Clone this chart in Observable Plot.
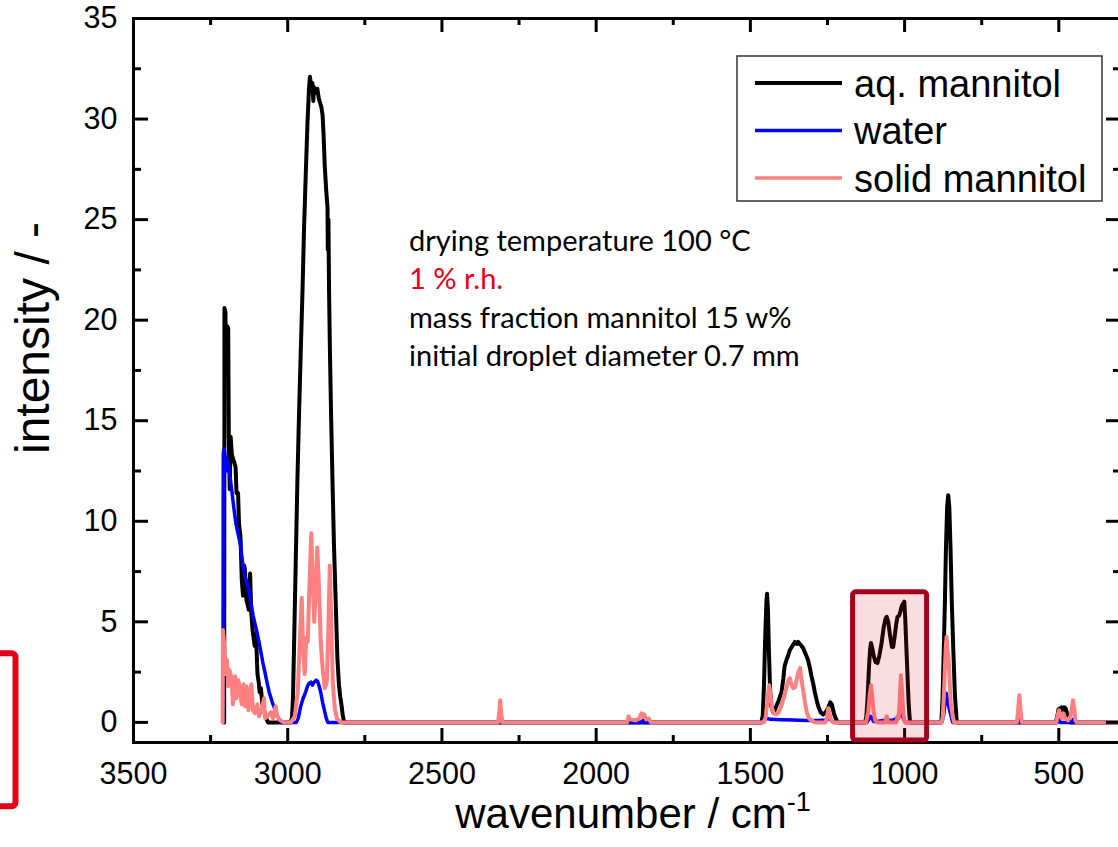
<!DOCTYPE html>
<html>
<head>
<meta charset="utf-8">
<script src="https://cdn.jsdelivr.net/npm/d3@7"></script>
<script src="https://cdn.jsdelivr.net/npm/@observablehq/plot@0.6"></script>
<style>
  html, body { margin: 0; padding: 0; background: #fff; overflow: hidden; }
  #chart { width: 1118px; height: 847px; }
</style>
</head>
<body>
<div id="chart"></div>
<script>
// Raman spectra, [wavenumber (cm^-1), intensity]
const aqMannitol = [
  [3206, 0], [3205, 20.6], [3202, 20.4], [3199, 17.4], [3196, 19.7], [3193, 19.6], [3191, 14.2], [3188, 11.6],
  [3185, 14.2], [3181, 13.3], [3175, 13.0], [3169, 12.7], [3166, 11.4], [3161, 11.4], [3158, 9.9], [3153, 9.2],
  [3149, 7.1], [3145, 6.3], [3141, 7.8], [3139, 7.6], [3134, 6.1], [3126, 5.6], [3122, 7.4], [3118, 5.4],
  [3114, 4.6], [3107, 3.8], [3103, 4.4], [3098, 2.4], [3094, 2.0], [3091, 1.5], [3087, 1.7], [3082, 0.9],
  [3077, 0.6], [3070, 0.2], [3064, 0],
  [2990, 0], [2986, 0.3], [2983, 1.2], [2979.5, 3.8], [2974, 8.0], [2968.5, 12.1], [2963, 15.5], [2958, 18.3],
  [2952, 21.5], [2947, 24.6], [2941, 27.5], [2936, 29.8], [2931, 31.5], [2928, 32.1], [2924, 31.6], [2920, 31.8],
  [2917, 30.9], [2915, 31.6], [2910, 31.3], [2904, 31.5], [2899, 31.0], [2895, 30.8], [2891, 30.6], [2887, 30.2],
  [2884, 29.3], [2880, 27.7], [2875, 26.4], [2871, 25.6], [2870, 23.5], [2868, 25.0], [2866, 21.5], [2863, 18.3],
  [2859, 15.0], [2855, 12.1], [2850, 8.8], [2844, 5.8], [2839, 3.2], [2834, 1.9], [2830, 1.3], [2826, 0.9],
  [2822, 0.4], [2817, 0],
  [1465, 0], [1460, 0.3], [1456, 1.8], [1452, 4.2], [1448, 6.0], [1446, 6.4], [1443, 5.6], [1440, 3.6],
  [1436, 1.6], [1432, 0.8], [1426, 0.5], [1421, 0.6], [1416, 0.8], [1408, 1.1], [1399, 1.5], [1393, 2.2],
  [1389, 2.8], [1383, 3.1], [1378, 3.3], [1372, 3.6], [1364, 3.8], [1356, 4.0], [1350, 3.9], [1345, 4.0],
  [1340, 3.9], [1334, 3.8], [1329, 3.7], [1321, 3.4], [1313, 3.1], [1307, 2.7], [1302, 2.3], [1296, 1.9],
  [1291, 1.5], [1285, 1.1], [1280, 0.8], [1272, 0.5], [1264, 0.4], [1256, 0.5], [1248, 0.7], [1241, 1.0],
  [1236, 0.9], [1230, 0.5], [1226, 0.3], [1220, 0.1], [1215, 0],
  [1128, 0], [1124, 0.3], [1120, 1.2], [1116, 2.6], [1112, 3.6], [1109, 3.95], [1105, 3.7], [1100, 3.3],
  [1094, 3.0], [1088, 2.95], [1082, 3.3], [1075, 3.9], [1068, 4.7], [1062, 5.15], [1058, 5.25], [1053, 5.0],
  [1047, 4.3], [1041, 3.75], [1037, 3.75], [1032, 4.3], [1027, 4.9], [1023, 5.25], [1018, 5.3], [1013, 5.55],
  [1009, 5.8], [1005, 5.9], [1001, 6.0], [998, 5.2], [995, 4.0], [991, 2.5], [987, 1.0], [984, 0.3], [982, 0],
  [881, 0], [877, 1.2], [873, 3.6], [869, 6.2], [866, 8.6], [862, 10.7], [858.5, 11.3], [855, 10.7],
  [851, 8.6], [847, 6.0], [842, 3.6], [837, 1.4], [831, 0],
  [510, 0], [505, 0.3], [501, 0.65], [497, 0.7], [494, 0.55], [490, 0.75], [486, 0.6], [482, 0.75],
  [478, 0.7], [474, 0.5], [470, 0.3], [466, 0.1], [463, 0], [300, 0]
];

const water = [
  [3210, 0], [3209, 13.4], [3206, 13.6], [3203, 13.2], [3200, 12.5], [3197, 13.1], [3194, 12.9], [3190, 12.6],
  [3186, 12.1], [3181, 11.5], [3175, 10.7], [3168, 9.9], [3160, 9.3], [3153, 8.8], [3146, 7.9], [3139, 7.3],
  [3132, 6.9], [3126, 6.6], [3119, 5.9], [3112, 5.3], [3106, 4.9], [3100, 4.5], [3093, 4.0], [3087, 3.5],
  [3081, 3.0], [3074, 2.5], [3066, 1.9], [3060, 1.5], [3055, 1.25], [3050, 1.0], [3045, 0.8], [3040, 0.55],
  [3036, 0.4], [3030, 0.2], [3025, 0.1], [3020, 0],
  [2972, 0], [2966, 0.2], [2958, 0.8], [2950, 1.2], [2942, 1.5], [2936, 1.8], [2931, 1.95], [2925, 2.0],
  [2920, 1.85], [2914, 2.0], [2908, 2.1], [2903, 2.05], [2898, 1.8], [2893, 1.5], [2887, 1.0], [2881, 0.6],
  [2875, 0.2], [2870, 0],
  [1852, 0], [1848, 0.1], [1843, 0],
  [1465, 0], [1455, 0.12], [1445, 0.2], [1435, 0.15], [1400, 0.13], [1360, 0.12], [1320, 0.1], [1280, 0.1],
  [1255, 0.12], [1246, 0.2], [1238, 0.1], [1228, 0],
  [1122, 0], [1116, 0.15], [1111, 0.3], [1107, 0.25], [1101, 0.05], [1090, 0.05], [1070, 0.1], [1055, 0.12],
  [1040, 0.1], [1025, 0.2], [1015, 0.35], [1010, 0.4], [1005, 0.25], [999, 0],
  [879, 0], [873, 0.4], [869, 0.9], [865, 1.45], [862, 1.2], [858, 0.9], [854, 0.6], [849, 0.3], [844, 0],
  [632, 0], [628, 0.15], [624, 0],
  [503, 0], [499, 0.15], [495, 0], [456, 0], [453, 0.15], [449, 0], [300, 0]
];

const solidMannitol = [
  [3211, 0], [3210, 4.6], [3208, 4.2], [3205.6, 3.8], [3203, 3.2], [3201, 2.4], [3197, 3.1], [3192.6, 1.8],
  [3188.3, 2.6], [3181.8, 2.1], [3177.5, 0.9], [3171, 2.3], [3166.6, 1.2], [3160, 2.1], [3153.6, 1.5],
  [3149.4, 0.9], [3143.9, 1.9], [3138.6, 0.8], [3134, 1.8], [3127.6, 0.6], [3122.2, 1.6], [3117.8, 1.9],
  [3112.6, 0.6], [3106.2, 0.45], [3098.4, 0.9], [3093.2, 0.3], [3084.4, 0.6], [3077, 1.2], [3073, 0.2],
  [3066, 0.3], [3055, 0.5], [3048, 0.2], [3039, 0.8], [3034, 0.3], [3028, 0.15], [3013, 0],
  [2990, 0], [2977, 0.3], [2967.5, 1.5], [2959.4, 4.5], [2954.5, 6.2], [2949.7, 3.5], [2944.8, 2.4],
  [2939.9, 4.2], [2935.1, 4.0], [2930.2, 6.5], [2923.7, 9.4], [2918.8, 7.0], [2914, 5.0], [2909.1, 6.5],
  [2904.2, 8.7], [2899.4, 7.0], [2892.9, 4.0], [2886.4, 2.6], [2879.9, 1.7], [2873.4, 2.0], [2868.5, 4.5],
  [2863.6, 7.8], [2858.8, 5.0], [2853.9, 2.0], [2847.4, 0.7], [2840.9, 0.2], [2828, 0],
  [2318, 0], [2314, 0.5], [2311, 1.1], [2308, 0.5], [2304, 0],
  [1900, 0], [1895, 0.3], [1890, 0.15], [1872, 0.1], [1860, 0.2], [1853, 0.45], [1848, 0.3], [1844, 0.4],
  [1838, 0.15], [1830, 0.2], [1822, 0],
  [1456, 0], [1450, 0.3], [1446, 0.9], [1442, 1.5], [1439, 1.85], [1435, 1.4], [1430, 0.7], [1424, 0.45],
  [1416, 0.4], [1408, 0.5], [1400, 0.8], [1392, 1.2], [1384, 1.7], [1377, 2.1], [1372, 2.2], [1367, 1.9],
  [1361, 1.7], [1355, 1.75], [1349, 2.2], [1344, 2.5], [1339, 2.7], [1334, 2.1], [1329, 1.6], [1323, 1.0],
  [1317, 0.5], [1310, 0.2], [1302, 0.1], [1290, 0], [1256, 0], [1251, 0.3], [1247, 0.7], [1243, 0.4],
  [1238, 0.1], [1232, 0],
  [1125, 0], [1118, 0.5], [1113, 1.4], [1109, 1.85], [1105, 1.3], [1100, 0.5], [1095, 0.1], [1090, 0],
  [1063, 0], [1058, 0.3], [1053, 0], [1027, 0], [1023, 0.3], [1019, 0.2], [1016, 1.1], [1012, 2.35],
  [1008, 1.5], [1004, 0.4], [999, 0],
  [880, 0], [876, 0.3], [872, 1.6], [867, 3.6], [864, 4.25], [861, 3.6], [857.5, 3.2], [854, 2.1],
  [850, 0.9], [844, 0.3], [839, 0],
  [636, 0], [632, 0.6], [628, 1.35], [624, 0.6], [620, 0],
  [508, 0], [503, 0.4], [499, 0.6], [494, 0.3], [490, 0.2], [485, 0.45], [479, 0.2], [470, 0.1],
  [462, 0.3], [457, 0.8], [454, 1.1], [450, 0.7], [446, 0.1], [442, 0], [300, 0]
];

// Axes
const xDomain = [3500, 300];
const yDomain = [-1, 35];
const xMajor = [3500, 3000, 2500, 2000, 1500, 1000, 500];
const xMinor = [3250, 2750, 2250, 1750, 1250, 750];
const yMajor = [0, 5, 10, 15, 20, 25, 30, 35];
const yMinor = [2.5, 7.5, 12.5, 17.5, 22.5, 27.5, 32.5];

// Highlighted C–O stretching region
const highlight = [{from: 1167, to: 927, low: -0.9, high: 6.47}];

const legendItems = [
  {label: "aq. mannitol", color: "#000000", width: 4},
  {label: "water", color: "#0000ff", width: 3.5},
  {label: "solid mannitol", color: "#ff8080", width: 3.5}
];

const notes = [
  {text: "drying temperature 100 °C", color: "#000000"},
  {text: "1 % r.h.", color: "#e2001a"},
  {text: "mass fraction mannitol 15 w%", color: "#000000"},
  {text: "initial droplet diameter 0.7 mm", color: "#000000"}
];

const W = 1118, H = 847;
const mL = 133, mR = -2, mT = 18, mB = 105;
const FW = W - mR - mL, FH = H - mB - mT;
const sans = "'Liberation Sans', Arial, Helvetica, sans-serif";

const line = (data, stroke, strokeWidth) =>
  Plot.line(data, {x: d => d[0], y: d => d[1], stroke, strokeWidth, strokeLinejoin: "round", clip: true});

const chart = Plot.plot({
  width: W,
  height: H,
  marginLeft: mL,
  marginRight: mR,
  marginTop: mT,
  marginBottom: mB,
  x: {domain: xDomain},
  y: {domain: yDomain},
  style: {fontFamily: sans, fontSize: "30px", color: "#000", background: "#fff"},
  marks: [
    line(aqMannitol, "#000000", 4),
    line(water, "#0000ff", 3.5),
    line(solidMannitol, "#ff8080", 4),
    Plot.frame({stroke: "#000", strokeWidth: 3}),
    // inward ticks on all four sides
    Plot.tickX(xMajor, {x: d => d, insetTop: FH - 14, stroke: "#000", strokeWidth: 3}),
    Plot.tickX(xMinor, {x: d => d, insetTop: FH - 7, stroke: "#000", strokeWidth: 3}),
    Plot.tickX(xMajor, {x: d => d, insetBottom: FH - 14, stroke: "#000", strokeWidth: 3}),
    Plot.tickX(xMinor, {x: d => d, insetBottom: FH - 7, stroke: "#000", strokeWidth: 3}),
    Plot.tickY(yMajor, {y: d => d, insetRight: FW - 15, stroke: "#000", strokeWidth: 3}),
    Plot.tickY(yMinor, {y: d => d, insetRight: FW - 8, stroke: "#000", strokeWidth: 3}),
    Plot.tickY(yMajor, {y: d => d, insetLeft: FW - 14, stroke: "#000", strokeWidth: 3}),
    Plot.tickY(yMinor, {y: d => d, insetLeft: FW - 7, stroke: "#000", strokeWidth: 3}),
    Plot.axisX({ticks: xMajor, tickSize: 0, tickPadding: 20, tickFormat: d3.format("d"), label: null}),
    Plot.axisY({ticks: yMajor, tickSize: 0, tickPadding: 16, tickFormat: d3.format("d"), label: null}),
    Plot.rect(highlight, {
      x1: "from", x2: "to", y1: "low", y2: "high",
      fill: "rgb(215,28,48)", fillOpacity: 0.15,
      stroke: "#a3001b", strokeWidth: 5, rx: 3
    })
  ]
});

const svg = d3.select(chart);

// tick labels at full size
svg.selectAll('g[aria-label$="tick label"]')
  .attr("font-size", 30.5).attr("font-family", sans).attr("fill", "#000");

// axis titles
const xt = svg.append("text")
  .attr("x", 633).attr("y", 828)
  .attr("text-anchor", "middle")
  .attr("font-family", sans).attr("font-size", 42).attr("fill", "#000");
xt.append("tspan").text("wavenumber / cm");
xt.append("tspan").attr("font-size", 27).attr("dy", -17).text("-1");

svg.append("text")
  .attr("transform", "translate(49,338) rotate(-90)")
  .attr("text-anchor", "middle")
  .attr("font-family", sans).attr("font-size", 48).attr("fill", "#000")
  .text("intensity / -");

// legend
const lg = svg.append("g").attr("text-anchor", "start");
lg.append("rect")
  .attr("x", 737).attr("y", 56).attr("width", 365).attr("height", 145)
  .attr("fill", "#fff").attr("stroke", "#333").attr("stroke-width", 1.5);
legendItems.forEach((d, i) => {
  const y = 83 + i * 47.5;
  lg.append("line")
    .attr("x1", 755).attr("x2", 842).attr("y1", y).attr("y2", y)
    .attr("stroke", d.color).attr("stroke-width", d.width);
  lg.append("text")
    .attr("x", 854).attr("y", y).attr("dy", "0.36em")
    .attr("text-anchor", "start")
    .attr("font-family", sans).attr("font-size", 38).attr("fill", "#000")
    .text(d.label);
});

// experimental conditions
const nt = svg.append("g").attr("text-anchor", "start");
notes.forEach((d, i) => {
  nt.append("text")
    .attr("x", 409).attr("y", 251 + i * 38.3)
    .attr("text-anchor", "start")
    .attr("font-family", "Lato, 'Open Sans', sans-serif").attr("font-size", 29)
    .attr("fill", d.color)
    .text(d.text);
});

// marker bracket at the left edge
svg.append("rect")
  .attr("x", -60).attr("y", 653.3).attr("width", 75.5).attr("height", 153)
  .attr("rx", 4).attr("fill", "none")
  .attr("stroke", "#e2001a").attr("stroke-width", 6);

document.getElementById("chart").appendChild(chart);
</script>
</body>
</html>
